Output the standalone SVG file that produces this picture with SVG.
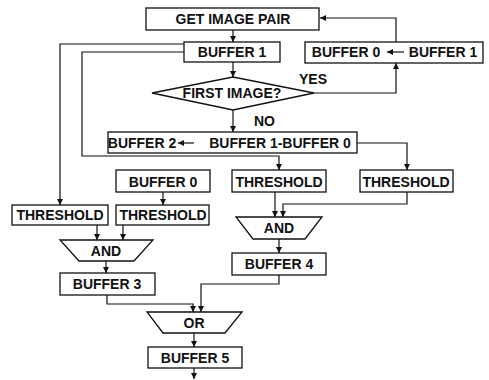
<svg xmlns="http://www.w3.org/2000/svg" width="489" height="380" viewBox="0 0 489 380">
<style>
.b{fill:#fff;stroke:#111;stroke-width:1.3}
.t{font-family:"Liberation Sans",Arial,sans-serif;font-size:14px;font-weight:bold;fill:#111;text-anchor:middle}
.s{text-anchor:start}
.c{fill:none;stroke:#111;stroke-width:1.2}
</style>
<defs>
<marker id="a" markerWidth="8" markerHeight="8" refX="6" refY="3" orient="auto" markerUnits="userSpaceOnUse">
<path d="M0,0 L6,3 L0,6 z" fill="#111"/>
</marker>
</defs>
<rect width="489" height="380" fill="#fff"/>
<g id="connectors">
<path class="c" d="M233,30 V42" marker-end="url(#a)"/>
<path class="c" d="M233,62 V77" marker-end="url(#a)"/>
<path class="c" d="M314,93 H396 V63" marker-end="url(#a)"/>
<path class="c" d="M396,42 V18 H320" marker-end="url(#a)"/>
<path class="c" d="M233,110 V132" marker-end="url(#a)"/>
<path class="c" d="M184,44 H60 V205" marker-end="url(#a)"/>
<path class="c" d="M184,52 H82 V156 H279 V170" marker-end="url(#a)"/>
<path class="c" d="M357,143 H407 V170" marker-end="url(#a)"/>
<path class="c" d="M163,192 V205" marker-end="url(#a)"/>
<path class="c" d="M97,225 V240" marker-end="url(#a)"/>
<path class="c" d="M123,225 V240" marker-end="url(#a)"/>
<path class="c" d="M106,261 V273" marker-end="url(#a)"/>
<path class="c" d="M275,192 V217" marker-end="url(#a)"/>
<path class="c" d="M407,192 V204 H283 V217" marker-end="url(#a)"/>
<path class="c" d="M279,239 V253" marker-end="url(#a)"/>
<path class="c" d="M107,295 V304 H193 V312" marker-end="url(#a)"/>
<path class="c" d="M279,275 V284 H201 V312" marker-end="url(#a)"/>
<path class="c" d="M194,333 V347" marker-end="url(#a)"/>
<path class="c" d="M194,368 V379" marker-end="url(#a)"/>
</g>
<g id="get">
<rect class="b" x="146" y="8" width="173" height="22"/>
<text class="t" x="233" y="24">GET IMAGE PAIR</text>
</g>
<g id="buf1">
<rect class="b" x="184" y="42" width="96" height="20"/>
<text class="t" x="232" y="57">BUFFER 1</text>
</g>
<g id="copy">
<rect class="b" x="305" y="42" width="178" height="21"/>
<text class="t" x="346" y="57">BUFFER 0</text>
<path class="c" d="M404,52 H387" marker-end="url(#a)"/>
<text class="t" x="443" y="57">BUFFER 1</text>
</g>
<g id="first">
<polygon class="b" points="152,93 233,77 314,93 233,110"/>
<text class="t" x="232" y="98">FIRST IMAGE?</text>
<text class="t s" x="299" y="84">YES</text>
<text class="t s" x="254" y="126">NO</text>
</g>
<g id="diff">
<rect class="b" x="108" y="132" width="249" height="21"/>
<text class="t" x="142" y="148">BUFFER 2</text>
<path class="c" d="M194,143 H178" marker-end="url(#a)"/>
<text class="t" x="280" y="148">BUFFER 1-BUFFER 0</text>
</g>
<g id="buf0">
<rect class="b" x="116" y="170" width="94" height="22"/>
<text class="t" x="163" y="187">BUFFER 0</text>
</g>
<g id="th3">
<rect class="b" x="232" y="170" width="94" height="22"/>
<text class="t" x="279" y="187">THRESHOLD</text>
</g>
<g id="th4">
<rect class="b" x="360" y="170" width="93" height="22"/>
<text class="t" x="406" y="187">THRESHOLD</text>
</g>
<g id="th1">
<rect class="b" x="12" y="205" width="96" height="20"/>
<text class="t" x="60" y="220">THRESHOLD</text>
</g>
<g id="th2">
<rect class="b" x="116" y="205" width="93" height="20"/>
<text class="t" x="163" y="220">THRESHOLD</text>
</g>
<g id="and1">
<polygon class="b" points="60,240 153,240 134,261 79,261"/>
<text class="t" x="106" y="256">AND</text>
</g>
<g id="and2">
<polygon class="b" points="236,217 322,217 305,239 253,239"/>
<text class="t" x="279" y="233">AND</text>
</g>
<g id="buf3">
<rect class="b" x="60" y="273" width="95" height="22"/>
<text class="t" x="107" y="289">BUFFER 3</text>
</g>
<g id="buf4">
<rect class="b" x="232" y="253" width="94" height="22"/>
<text class="t" x="279" y="269">BUFFER 4</text>
</g>
<g id="or">
<polygon class="b" points="147,312 242,312 225,333 163,333"/>
<text class="t" x="194" y="328">OR</text>
</g>
<g id="buf5">
<rect class="b" x="148" y="347" width="94" height="21"/>
<text class="t" x="195" y="363">BUFFER 5</text>
</g>
</svg>
